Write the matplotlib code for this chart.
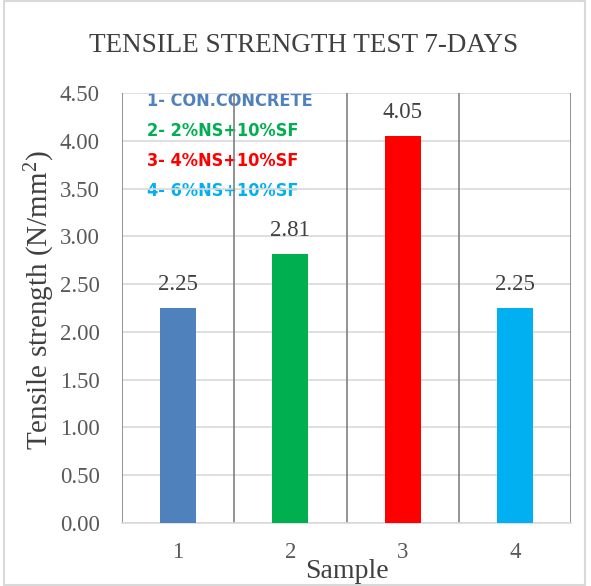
import matplotlib.pyplot as plt
import numpy as np

# ------------------------- Data -------------------------
samples = ["1", "2", "3", "4"]
strength = [2.25, 2.81, 4.05, 2.25]
bar_colors = ["#4f81bd", "#00b050", "#ff0000", "#00b0f0"]
legend_labels = ["1- CON.CONCRETE", "2- 2%NS+10%SF", "3- 4%NS+10%SF", "4- 6%NS+10%SF"]
y_ticks = [0.0, 0.5, 1.0, 1.5, 2.0, 2.5, 3.0, 3.5, 4.0, 4.5]

serif = ["Liberation Serif", "DejaVu Serif"]
txt_gray = "#595959"

plt.rcParams["mathtext.fontset"] = "custom"
plt.rcParams["mathtext.rm"] = "Liberation Serif"

# ------------------------- Figure -------------------------
fig = plt.figure(figsize=(5.91, 5.86), dpi=100)
ax = fig.add_axes([122/591, 1-523/586, (571-122)/591, (523-93)/586])

x = np.arange(1, len(samples)+1)
ax.bar(x, strength, width=0.32, color=bar_colors, zorder=3)

for xi, v in zip(x, strength):
    ax.text(xi, v + 0.14, f"{v:.2f}", ha="center", va="bottom",
            fontsize=16.5, family=serif, color="#404040", zorder=4)

ax.set_xlim(0.5, 4.5)
ax.set_ylim(0, 4.5)
ax.set_yticks(y_ticks)
ax.set_yticklabels([f"{t:.2f}" for t in y_ticks], family=serif, fontsize=16.5, color=txt_gray)
ax.set_xticks(x)
ax.set_xticklabels(samples, family=serif, fontsize=16.5, color=txt_gray)
ax.tick_params(length=0)
ax.tick_params(axis="y", pad=16)
ax.tick_params(axis="x", pad=14)

ax.grid(axis="y", color="#d9d9d9", linewidth=1.2, zorder=0)
ax.set_axisbelow(True)
for b in np.arange(0.5, 4.6, 1.0):
    ax.axvline(b, color="#808080", linewidth=1.2, zorder=1)

for s in ["top", "right", "left"]:
    ax.spines[s].set_visible(False)
ax.spines["bottom"].set_color("#d9d9d9")
ax.spines["bottom"].set_linewidth(1.2)

fig.text(40/591, 1-300/586, "Tensile strength (N/mm$\\mathregular{^2}$)", rotation=90,
         ha="center", va="center", family=serif, fontsize=21, color="#404040")
fig.text(347/591, 1-571/586, "Sample", ha="center", va="center",
         family=serif, fontsize=20, color="#404040")
fig.text(304/591, 1-46/586, "TENSILE STRENGTH TEST 7-DAYS", ha="center", va="center",
         family=serif, fontsize=19.5, color="#404040")

# text legend, sits under the vertical grid lines like in the original
for i, (lab, c) in enumerate(zip(legend_labels, bar_colors)):
    ax.text(147/591, 1-(101+30*i)/586, lab, ha="left", va="center",
            transform=fig.transFigure, family="DejaVu Sans", fontstretch="condensed",
            fontweight="bold", fontsize=13, color=c, zorder=0.5)

# outer frame
fig.patches.append(plt.Rectangle((4/591, 0.002), 581/591, 0.996, transform=fig.transFigure,
                                 fill=False, edgecolor="#d9d9d9", linewidth=1.5))

fig.savefig("out.png", dpi=100)
